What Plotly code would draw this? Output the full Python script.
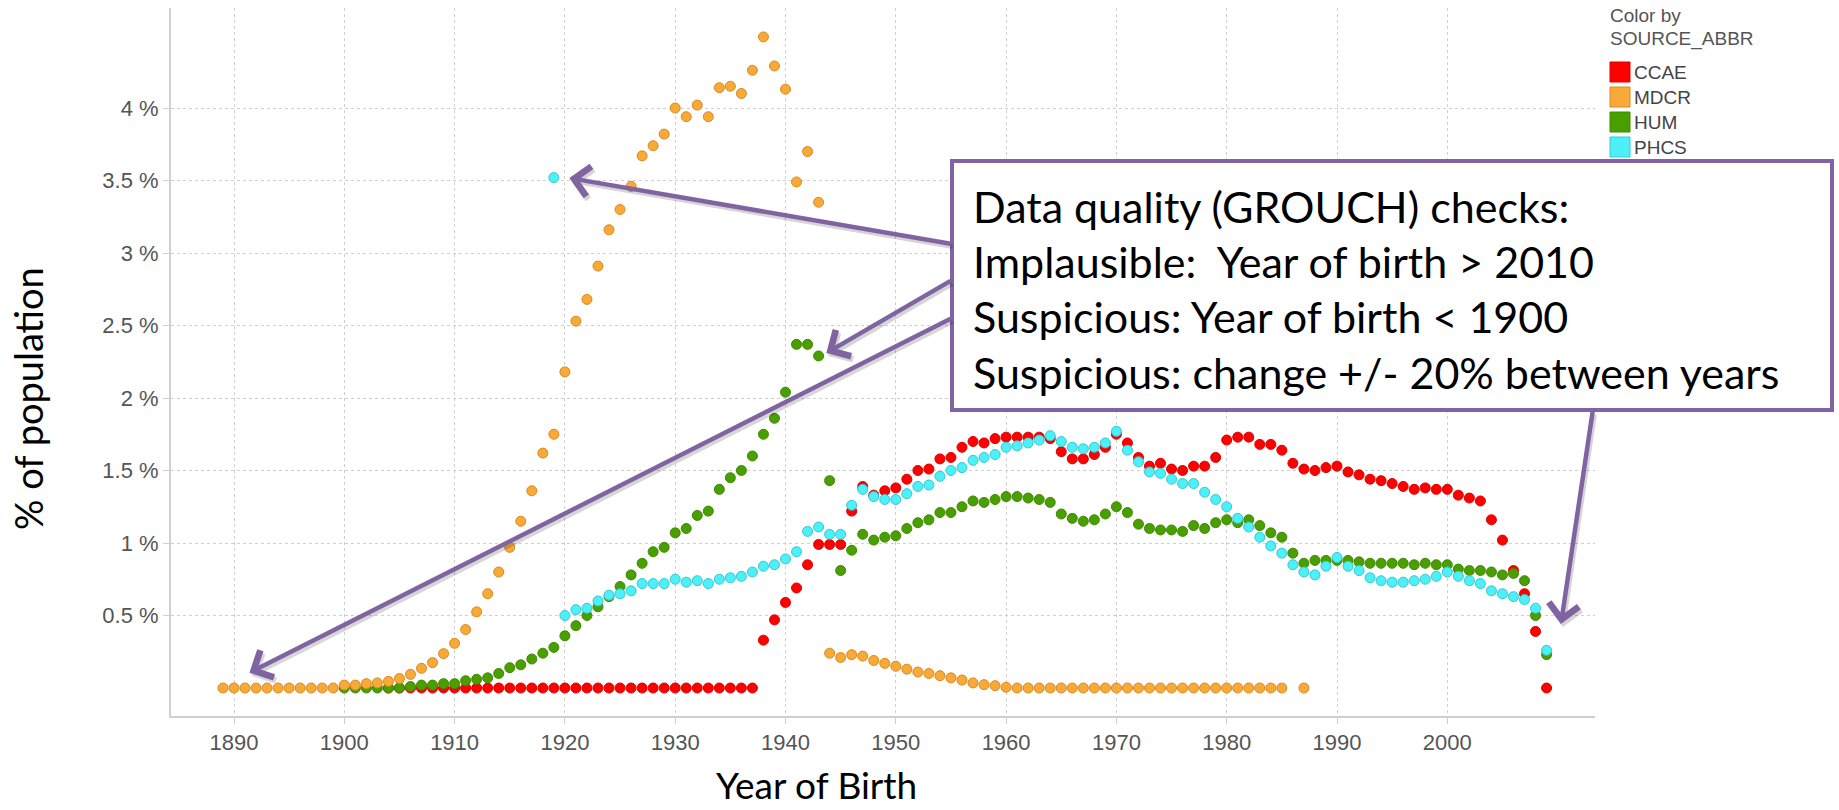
import plotly.graph_objects as go

# ---------------- data ----------------
ccae_years = list(range(1904, 2010))
ccae_vals = [0] * 34 + [
    0.33, 0.47, 0.59, 0.69, 0.85, 0.99, 0.99, 0.99, 1.22, 1.39,
    1.33, 1.36, 1.38, 1.44, 1.50, 1.51, 1.58, 1.59, 1.66, 1.70,
    1.69, 1.72, 1.73, 1.73, 1.73, 1.73, 1.72, 1.63, 1.58, 1.58,
    1.61, 1.66, 1.75, 1.69, 1.59, 1.53, 1.55, 1.51, 1.50, 1.53,
    1.53, 1.59, 1.71, 1.73, 1.73, 1.68, 1.68, 1.64, 1.55, 1.51,
    1.50, 1.52, 1.53, 1.49, 1.47, 1.44, 1.43, 1.41, 1.39, 1.37,
    1.38, 1.37, 1.37, 1.33, 1.31, 1.29, 1.16, 1.02, 0.81, 0.65,
    0.39, 0.0]

mdcr_years = list(range(1889, 1986)) + [1987]
mdcr_vals = [0] * 11 + [
    0.02, 0.02, 0.03, 0.035, 0.046, 0.065, 0.094, 0.136, 0.175, 0.237,
    0.308, 0.403, 0.525, 0.65, 0.80, 0.97, 1.15, 1.36, 1.62, 1.75,
    2.18, 2.53, 2.68, 2.91, 3.16, 3.30, 3.46, 3.67, 3.74, 3.82,
    4.00, 3.94, 4.02, 3.94, 4.14, 4.15, 4.10, 4.26, 4.49, 4.29,
    4.13, 3.49, 3.70, 3.35,
    0.24, 0.21, 0.23, 0.22, 0.19, 0.17, 0.15, 0.13, 0.11, 0.10,
    0.085, 0.07, 0.055, 0.035, 0.023, 0.016, 0.005] + [0] * 25 + [0]

hum_years = list(range(1900, 2010))
hum_vals = [
    0, 0, 0, 0, 0, 0, 0.01, 0.02, 0.02, 0.03,
    0.03, 0.05, 0.06, 0.07, 0.10, 0.14, 0.16, 0.20, 0.24, 0.28,
    0.36, 0.43, 0.50, 0.56, 0.63, 0.70, 0.78, 0.86, 0.94, 0.97,
    1.07, 1.10, 1.19, 1.22, 1.37, 1.45, 1.50, 1.60, 1.75, 1.86,
    2.04, 2.37, 2.37, 2.29, 1.43, 0.81, 0.95, 1.06, 1.02, 1.04,
    1.05, 1.10, 1.14, 1.16, 1.21, 1.21, 1.25, 1.29, 1.28, 1.30,
    1.32, 1.32, 1.31, 1.30, 1.28, 1.20, 1.17, 1.15, 1.16, 1.20,
    1.25, 1.21, 1.13, 1.10, 1.09, 1.09, 1.08, 1.12, 1.10, 1.14,
    1.16, 1.14, 1.16, 1.12, 1.07, 1.04, 0.93, 0.86, 0.88, 0.88,
    0.88, 0.88, 0.87, 0.86, 0.86, 0.86, 0.86, 0.85, 0.86, 0.85,
    0.85, 0.82, 0.81, 0.81, 0.80, 0.78, 0.79, 0.74, 0.50, 0.23]

phcs_years = list(range(1919, 2010))
phcs_vals = [
    3.52,
    0.50, 0.54, 0.55, 0.60, 0.64, 0.65, 0.67, 0.72, 0.72, 0.72,
    0.75, 0.73, 0.74, 0.72, 0.75, 0.76, 0.77, 0.80, 0.84, 0.85,
    0.89, 0.94, 1.08, 1.11, 1.06, 1.06, 1.26, 1.37, 1.32, 1.30,
    1.30, 1.34, 1.39, 1.40, 1.46, 1.50, 1.52, 1.57, 1.59, 1.61,
    1.66, 1.67, 1.69, 1.71, 1.74, 1.70, 1.66, 1.65, 1.66, 1.69,
    1.77, 1.64, 1.56, 1.49, 1.48, 1.44, 1.41, 1.41, 1.35, 1.30,
    1.25, 1.17, 1.11, 1.04, 0.98, 0.93, 0.85, 0.80, 0.78, 0.84,
    0.90, 0.84, 0.81, 0.76, 0.74, 0.73, 0.73, 0.74, 0.75, 0.77,
    0.80, 0.77, 0.74, 0.72, 0.67, 0.65, 0.63, 0.61, 0.55, 0.26]

sources = ["CCAE", "MDCR", "HUM", "PHCS"]
colors = {"CCAE": "#ff0000", "MDCR": "#f8a937", "HUM": "#4a9f00", "PHCS": "#4cf0f8"}
edges = {"CCAE": "#e00000", "MDCR": "#d98a20", "HUM": "#3f8a00", "PHCS": "#38c8d0"}

y_tick_vals = [0.5, 1, 1.5, 2, 2.5, 3, 3.5, 4]
y_tick_text = ["0.5 %", "1 %", "1.5 %", "2 %", "2.5 %", "3 %", "3.5 %", "4 %"]
x_tick_vals = [1890, 1900, 1910, 1920, 1930, 1940, 1950, 1960, 1970, 1980, 1990, 2000]

box_lines = [
    "Data quality (GROUCH) checks:",
    "Implausible:  Year of birth > 2010",
    "Suspicious: Year of birth < 1900",
    "Suspicious: change +/- 20% between years",
]

# ---------------- layout geometry ----------------
W, H = 1839, 810
L, R, T, B = 171, 1595, 8, 716  # plot area in pixels
PW, PH = R - L, B - T


def px(x):
    return (x - L) / PW


def py(y):
    return (B - y) / PH


fig = go.Figure()
series = {
    "CCAE": (ccae_years, ccae_vals),
    "HUM": (hum_years, hum_vals),
    "MDCR": (mdcr_years, mdcr_vals),
    "PHCS": (phcs_years, phcs_vals),
}
for name in ["CCAE", "HUM", "MDCR", "PHCS"]:
    xs, ys = series[name]
    fig.add_trace(go.Scatter(
        x=xs, y=ys, mode="markers", name=name, showlegend=False,
        marker=dict(size=10, color=colors[name], line=dict(width=1, color=edges[name])),
    ))

shapes = []
annotations = []

# text box
shapes.append(dict(type="rect", xref="paper", yref="paper",
                   x0=px(952), x1=px(1832), y0=py(410), y1=py(161),
                   line=dict(color="#8064a2", width=4), fillcolor="white", layer="above"))
line_y = [206, 261, 317, 372]
for txt, yy in zip(box_lines, line_y):
    annotations.append(dict(text=txt, xref="paper", yref="paper", x=px(971), y=py(yy),
                            xanchor="left", yanchor="middle", showarrow=False,
                            font=dict(family="Lato", size=43, color="black")))

# arrows: (head_x, head_y, tail_x, tail_y) in data units
arrows = [
    (1920.4, 3.517, 1955.1, 3.062),
    (1943.7, 2.310, 1955.1, 2.814),
    (1891.4, 0.105, 1955.1, 2.552),
    (2010.3, 0.441, 2013.2, 1.917),
]
for col, shift in [("rgba(0,0,0,0.16)", (2, -3)), ("#8064a2", (0, 0))]:
    for hx, hy, tx, ty in arrows:
        annotations.append(dict(text="", x=hx, y=hy, ax=tx, ay=ty, xref="x", yref="y",
                                axref="x", ayref="y", showarrow=True, arrowhead=4,
                                arrowsize=1.3, arrowwidth=4.5, arrowcolor=col,
                                standoff=0, startstandoff=0,
                                xshift=shift[0], yshift=shift[1]))

# axis titles
annotations.append(dict(text="% of population", xref="paper", yref="paper", x=px(28), y=py(399),
                        textangle=-90, showarrow=False, xanchor="center", yanchor="middle",
                        font=dict(family="Lato", size=38, color="black")))
annotations.append(dict(text="Year of Birth", xref="paper", yref="paper", x=px(816), y=py(809),
                        showarrow=False, xanchor="center", yanchor="bottom",
                        font=dict(family="Lato", size=37, color="black")))

# legend (custom)
annotations.append(dict(text="Color by", xref="paper", yref="paper", x=px(1608), y=py(15),
                        xanchor="left", yanchor="middle", showarrow=False,
                        font=dict(family="Liberation Sans", size=19, color="#555555")))
annotations.append(dict(text="SOURCE_ABBR", xref="paper", yref="paper", x=px(1608), y=py(39),
                        xanchor="left", yanchor="middle", showarrow=False,
                        font=dict(family="Liberation Sans", size=19, color="#555555")))
for i, name in enumerate(sources):
    cy = 72 + 25 * i
    shapes.append(dict(type="rect", xref="paper", yref="paper",
                       x0=px(1610), x1=px(1630), y0=py(cy + 10), y1=py(cy - 10),
                       fillcolor=colors[name], line=dict(color=edges[name], width=1)))
    annotations.append(dict(text=name, xref="paper", yref="paper", x=px(1632), y=py(cy),
                            xanchor="left", yanchor="middle", showarrow=False,
                            font=dict(family="Liberation Sans", size=19, color="#444444")))

y0_val = 0 - (B - 688) / 145.0
y1_val = (688 - T) / 145.0
x0_val = 1890 + (L - 234) / 11.03
x1_val = 1890 + (R - 234) / 11.03

fig.update_layout(
    width=W, height=H,
    margin=dict(l=L, r=W - R, t=T, b=H - B),
    paper_bgcolor="white", plot_bgcolor="white",
    shapes=shapes, annotations=annotations,
    showlegend=False,
    xaxis=dict(range=[x0_val, x1_val], tickvals=x_tick_vals, showgrid=True,
               gridcolor="#cfcfcf", griddash="dot", gridwidth=1,
               showline=True, linecolor="#d0d0d0", linewidth=2,
               ticks="outside", ticklen=6, tickcolor="#d0d0d0",
               tickfont=dict(family="Liberation Sans", size=22, color="#555555"),
               zeroline=False),
    yaxis=dict(range=[y0_val, y1_val], tickvals=y_tick_vals, ticktext=y_tick_text,
               showgrid=True, gridcolor="#cfcfcf", griddash="dot", gridwidth=1,
               showline=True, linecolor="#d0d0d0", linewidth=2,
               ticks="outside", ticklen=6, tickcolor="#d0d0d0",
               tickfont=dict(family="Liberation Sans", size=22, color="#555555"),
               zeroline=False),
)

fig.write_html(
    "out.html",
    config={"displayModeBar": False},
    post_script="document.body.style.margin='0';document.body.style.overflow='hidden';",
)
